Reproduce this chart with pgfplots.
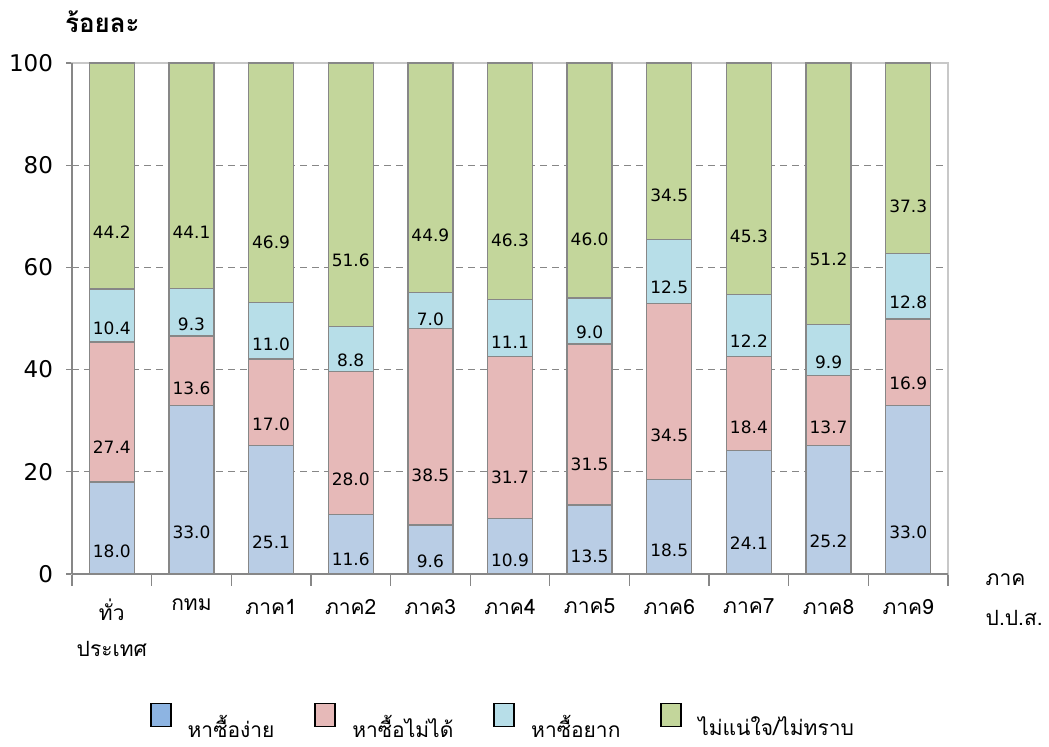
\documentclass[border=0pt]{standalone}
\usepackage{fontspec}
\setmainfont{DejaVu Sans}
\newfontfamily\thai[Script=Thai]{Loma}
\usepackage{pgfplots}
\usepackage{pgfplotstable}
\pgfplotsset{compat=1.18}

\definecolor{cEasy}{HTML}{B9CDE5}
\definecolor{cNo}{HTML}{E6B9B8}
\definecolor{cHard}{HTML}{B7DEE8}
\definecolor{cUnsure}{HTML}{C3D69B}
\definecolor{cEasyLeg}{HTML}{8DB4E2}
\definecolor{edge}{HTML}{878787}
\definecolor{frame}{HTML}{C8C8C8}

% easy, cannot buy, hard, unsure
\pgfplotstableread{
a b c d
18.0 27.4 10.4 44.2
33.0 13.6 9.3 44.1
25.1 17.0 11.0 46.9
11.6 28.0 8.8 51.6
9.6 38.5 7.0 44.9
10.9 31.7 11.1 46.3
13.5 31.5 9.0 46.0
18.5 34.5 12.5 34.5
24.1 18.4 12.2 45.3
25.2 13.7 9.9 51.2
33.0 16.9 12.8 37.3
}\shares

% label in the middle of each segment (1 unit = 2.555pt; the shift ends up applied twice)
\pgfplotsset{
  calc half/.code={%
    \pgfkeys{/pgf/fpu=true,/pgf/fpu/output format=fixed}%
    \pgfmathparse{\pgfplotspointmeta*0.63875}%
    \global\let\halfh\pgfmathresult
    \pgfkeys{/pgf/fpu=false}%
  },
  lab/.style={
    point meta=rawy,
    nodes near coords={\pgfmathprintnumber[fixed,fixed zerofill,precision=1]{\pgfplotspointmeta}},
    every node near coord/.append style={
      /pgfplots/calc half, anchor=center, yshift=-\halfh pt,
      font=\fontsize{8.5}{10}\selectfont, text=black},
  },
}

\begin{document}
\begin{tikzpicture}
\useasboundingbox (-36pt,-86.5pt) rectangle (488.5pt,287pt);
\begin{axis}[
  scale only axis, width=438pt, height=255.5pt,
  ybar stacked, bar width=0.565,
  xmin=-0.5, xmax=10.5, ymin=0, ymax=100,
  axis line style={frame, line width=0.6pt},
  tick pos=left,
  xtick={-0.5,0.5,...,10.5}, xticklabels={},
  extra x ticks={0,...,10},
  extra x tick labels={{ทั่ว\\ประเทศ},กทม,ภาค1,ภาค2,ภาค3,ภาค4,ภาค5,ภาค6,ภาค7,ภาค8,ภาค9},
  extra x tick style={major tick length=0pt},
  xticklabel style={font=\thai\fontsize{10.5}{18}\selectfont, align=center, yshift=-9pt},
  ytick={0,20,...,100},
  yticklabel style={font=\fontsize{11.5}{13}\selectfont, xshift=-3pt},
  /pgf/number format/assume math mode=true,
  xtick align=outside, ytick align=center,
  major tick length=6pt,
  tick style={edge, line width=0.6pt},
  ymajorgrids, grid style={edge, dash pattern=on 3.5pt off 2.5pt, line width=0.6pt},
  clip=false,
  legend columns=4,
  legend style={at={(rel axis cs:0.493,-0.243)}, anchor=north, draw=none,
    font=\thai\fontsize{10.5}{12}\selectfont,
    /tikz/every odd column/.append style={column sep=6pt},
    /tikz/every even column/.append style={column sep=18pt}},
  legend image code/.code={\draw[#1, draw=black, line width=0.9pt] (0pt,0.5pt) rectangle (10pt,12pt);},
]
\addplot[fill=cEasy, draw=edge, line width=0.65pt, forget plot, lab] table[x expr=\coordindex, y=a] {\shares};
\addplot[fill=cNo, draw=edge, line width=0.65pt, forget plot, lab] table[x expr=\coordindex, y=b] {\shares};
\addplot[fill=cHard, draw=edge, line width=0.65pt, forget plot, lab] table[x expr=\coordindex, y=c] {\shares};
\addplot[fill=cUnsure, draw=edge, line width=0.65pt, forget plot, lab] table[x expr=\coordindex, y=d] {\shares};
\addlegendimage{fill=cEasyLeg}
\addlegendentry{หาซื้อง่าย}
\addlegendimage{fill=cNo}
\addlegendentry{หาซื้อไม่ได้}
\addlegendimage{fill=cHard}
\addlegendentry{หาซื้อยาก}
\addlegendimage{fill=cUnsure}
\addlegendentry{ไม่แน่ใจ/ไม่ทราบ}
\draw[edge, line width=0.65pt] (rel axis cs:0,0) -- (rel axis cs:0,1);
\draw[edge, line width=0.65pt] (rel axis cs:0,0) -- (rel axis cs:1,0);
\node[anchor=west, font=\thai\bfseries\fontsize{13}{15}\selectfont] at (rel axis cs:-0.016,1.08) {ร้อยละ};
\node[anchor=west, align=left, font=\thai\fontsize{10.5}{20}\selectfont] at (rel axis cs:1.035,-0.051) {ภาค\\ป.ป.ส.};
\end{axis}
\end{tikzpicture}
\end{document}
